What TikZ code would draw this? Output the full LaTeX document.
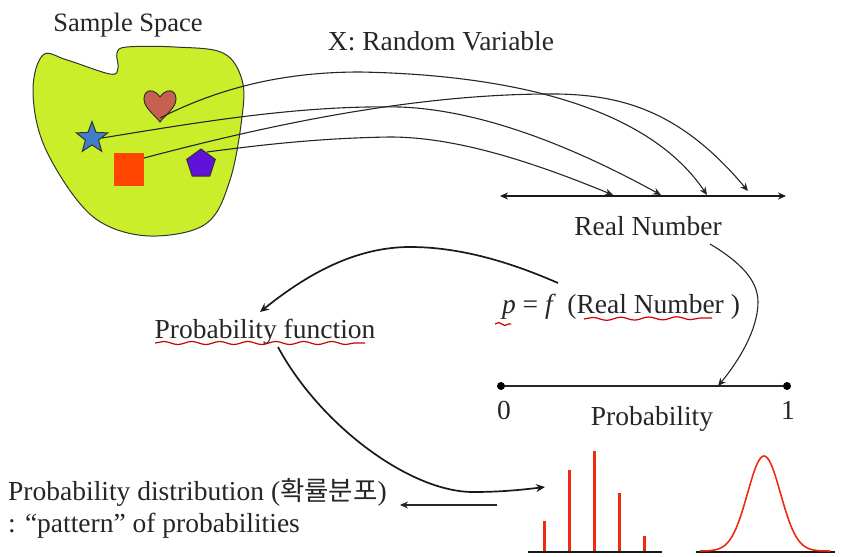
\documentclass[tikz,border=0pt]{standalone}
\usepackage{fontspec}
\setmainfont{Liberation Serif}
\newfontfamily\cjk{Noto Sans CJK KR}
\usepackage{tikz}
\usetikzlibrary{arrows.meta}
\usetikzlibrary{shapes.geometric}
\usetikzlibrary{decorations.pathmorphing}
\definecolor{blobgreen}{HTML}{CBEE2B}
\definecolor{heartred}{HTML}{C8604F}
\definecolor{starblue}{HTML}{3F7FC9}
\definecolor{squareorange}{HTML}{FF4500}
\definecolor{pentagonviolet}{HTML}{6211D8}
\definecolor{barred}{HTML}{F02A12}

\begin{document}
\begin{tikzpicture}[x=1pt,y=-1pt,
        label/.style={font=\fontsize{27.5}{32}\selectfont, text=black!85, inner sep=0pt},
        wire/.style={-{Stealth[length=8pt,width=7pt]}, black!85, line width=1.1pt},
        bold wire/.style={-{Stealth[length=9pt,width=8pt]}, black!90, line width=1.7pt},
        squiggle/.style={red!80!black, line width=1.2pt, decorate,
            decoration={snake, amplitude=1.5pt, segment length=28pt}},
        outline/.style={draw=black!80, line width=1pt},
        bar/.style={barred, line width=3pt},
        base/.style={black!90, line width=1.6pt},
        tick/.style={circle, fill=black, inner sep=0pt, minimum size=8pt}]
    \useasboundingbox (0,0) rectangle (847,557);

    % sample space
    \draw[fill=blobgreen, outline]
        plot[smooth cycle, tension=0.6] coordinates {(117,53) (127,47) (175,47) (223,53) (242,80)
            (242,117) (230,180) (207,223) (157,236) (110,227) (77,200) (43,143)
            (33,90) (43,55) (67,60) (110,74) (118,68)};
    \draw[fill=heartred, outline]
        (160,97) .. controls (155,89) and (144,88) .. (144,99)
        .. controls (144,108) and (155,115) .. (160,122)
        .. controls (165,115) and (176,108) .. (176,99)
        .. controls (176,88) and (165,89) .. (160,97);
    \node[star, star points=5, star point ratio=2.4, outline, fill=starblue,
        minimum size=33pt, inner sep=0pt] (starshape) at (92,138) {};
    \node[rectangle, fill=squareorange, minimum width=30pt, minimum height=33pt, inner sep=0pt]
        (squareshape) at (129,169.5) {};
    \node[regular polygon, regular polygon sides=5, outline, fill=pentagonviolet,
        minimum size=30pt, inner sep=0pt] (pentagonshape) at (201,164) {};

    \node[label, font=\fontsize{26.5}{32}\selectfont] (samplespace) at (128,25) {Sample Space};
    \node[label] (randomvar) at (441,41) {X: Random Variable};
    \node[label] (realnumber) at (648,226) {Real Number};
    \node[label] (pformula) at (621,307) {\textit{p} = \textit{f}\, (Real Number )};
    \node[label] (probfunc) at (265,332) {Probability function};
    \node[label] (problabel) at (652,419) {Probability};
    \node[label] (zero) at (504,410) {0};
    \node[label] (one) at (788,410) {1};
    \node[label, anchor=west] (probdist) at (8,492) {Probability distribution ({\cjk\fontsize{26.5}{30}\selectfont 확률분포})};
    \node[label, anchor=west] (pattern) at (8,526) {: “pattern” of probabilities};

    % real line and probability line
    \coordinate (realleft) at (500,196);
    \coordinate (realright) at (786,196);
    \draw[{Stealth[length=8pt,width=7pt]}-{Stealth[length=8pt,width=7pt]}, black!90, line width=1.3pt] (realleft) -- (realright);
    \node[tick] (probzero) at (501,386) {};
    \node[tick] (probone) at (787,386) {};
    \draw[black!85, line width=1.3pt] (probzero) -- (probone);

    % random variable arrows
    \coordinate (heartpt) at (160,118);
    \coordinate (starpt) at (102,138);
    \coordinate (squarept) at (144,158);
    \coordinate (pentagonpt) at (207,152);
    \coordinate (hita) at (613,195);
    \coordinate (hitb) at (661,195);
    \coordinate (hitc) at (707,195);
    \coordinate (hitd) at (748,191);
    \draw[wire] (heartpt) .. controls (225,85) and (290,72) .. (360,72)
        .. controls (520,75) and (650,110) .. (hitc);
    \draw[wire] (squarept) .. controls (250,130) and (400,95) .. (545,94)
        .. controls (620,93) and (680,110) .. (hitd);
    \draw[wire] (starpt) .. controls (200,122) and (300,105) .. (400,107)
        .. controls (480,110) and (570,145) .. (hitb);
    \draw[wire] (pentagonpt) .. controls (260,145) and (320,138) .. (390,137)
        .. controls (460,137) and (540,165) .. (hita);

    \coordinate (realout) at (710,244);
    \coordinate (probhit) at (718,386);
    \draw[wire] (realout) .. controls (740,262) and (758,280) .. (758,302)
        .. controls (758,330) and (738,362) .. (probhit);

    \coordinate (pfout) at (558,283);
    \coordinate (funcin) at (260,312);
    \draw[bold wire] (pfout) .. controls (510,262) and (460,247) .. (410,247)
        .. controls (350,247) and (300,280) .. (funcin);

    \coordinate (funcout) at (278,347);
    \coordinate (barsin) at (545,487);
    \draw[bold wire] (funcout) .. controls (320,425) and (410,492) .. (473,492)
        .. controls (500,492) and (520,490) .. (barsin);

    \coordinate (distout) at (497,505);
    \coordinate (distin) at (400,505);
    \draw[wire] (distout) -- (distin);

    % red underlines
    \draw[squiggle, decoration={segment length=12pt}] (495,324) -- (511,324);
    \draw[squiggle] (584,319) -- (712,318);
    \draw[squiggle] (155,343) -- (365,343);

    % pmf
    \coordinate (pmfleft) at (528,552);
    \coordinate (pmfright) at (662,552);
    \foreach \barx/\bartop in {544.5/521, 569.5/470, 594.5/451, 619.5/493, 644.5/536}
        \draw[bar] (\barx,552) -- (\barx,\bartop);
    \draw[base] (pmfleft) -- (pmfright);

    % pdf
    \coordinate (pdfleft) at (696,552);
    \coordinate (pdfright) at (835,552);
    \draw[base] (pdfleft) -- (pdfright);
    \draw[barred, line width=1.6pt, smooth, samples=80, domain=700:830]
        plot (\x,{551-95*exp(-(\x-764)*(\x-764)/(2*16.5*16.5))});
\end{tikzpicture}
\end{document}
